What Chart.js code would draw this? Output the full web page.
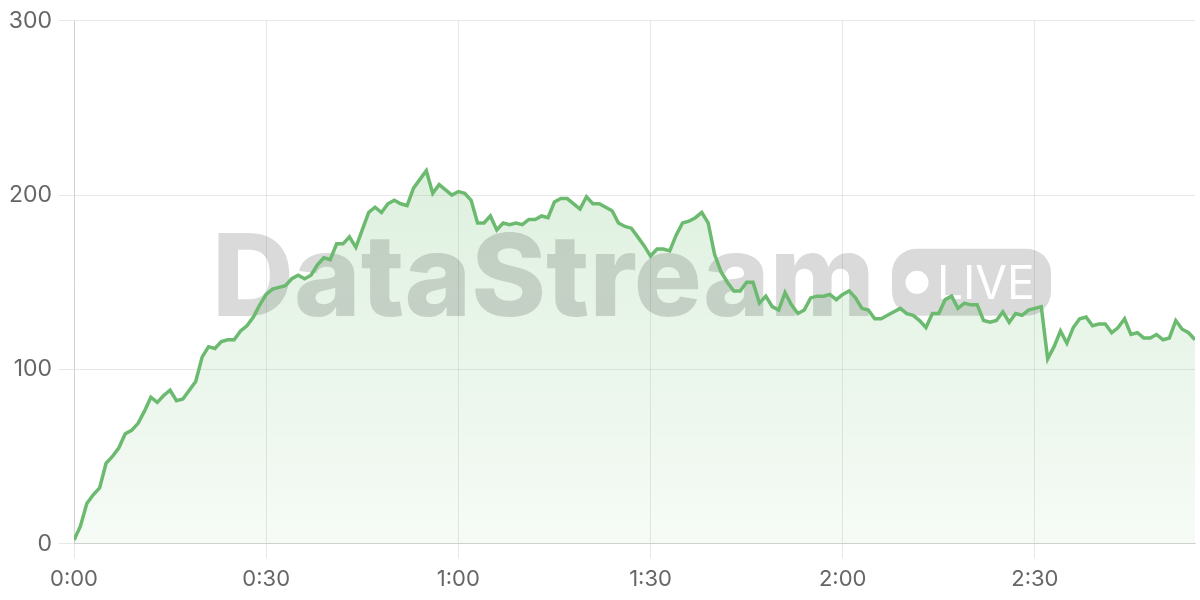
<!DOCTYPE html>
<html>
<head>
<meta charset="utf-8">
<script src="https://cdn.jsdelivr.net/npm/chart.js@4.4.1/dist/chart.umd.min.js"></script>
<style>
  html, body { margin: 0; padding: 0; background: #fff; }
  #wrap { width: 1200px; height: 600px; position: relative; }
</style>
</head>
<body>
<div id="wrap"><canvas id="streamChart"></canvas></div>
<script>
  // viewers per second
  const viewers = [
    2, 10, 23, 28, 32, 46, 50, 55, 63, 65,
    69, 76, 84, 81, 85, 88, 82, 83, 88, 93,
    107, 113, 112, 116, 117, 117, 122, 125, 130, 137,
    143, 146, 147, 148, 152, 154, 152, 154, 160, 164,
    163, 172, 172, 176, 170, 180, 190, 193, 190, 195,
    197, 195, 194, 204, 209, 214, 201, 206, 203, 200,
    202, 201, 197, 184, 184, 188, 180, 184, 183, 184,
    183, 186, 186, 188, 187, 196, 198, 198, 195, 192,
    199, 195, 195, 193, 191, 184, 182, 181, 176, 171,
    165, 169, 169, 168, 177, 184, 185, 187, 190, 184,
    166, 156, 150, 145, 145, 150, 150, 138, 142, 136,
    134, 144, 137, 132, 134, 141, 142, 142, 143, 140,
    143, 145, 141, 135, 134, 129, 129, 131, 133, 135,
    132, 131, 128, 124, 132, 132, 140, 142, 135, 138,
    137, 137, 128, 127, 128, 133, 127, 132, 131, 134,
    135, 136, 106, 113, 122, 115, 124, 129, 130, 125,
    126, 126, 121, 124, 129, 120, 121, 118, 118, 120,
    117, 118, 128, 123, 121, 117
  ];
  const seconds = viewers.map((v, i) => i);
  const xTicks = [0, 30, 60, 90, 120, 150];
  const yTicks = [0, 100, 200, 300];

  const fmtTime = (s) => Math.floor(s / 60) + ':' + String(s % 60).padStart(2, '0');

  // watermark drawn over the fill, under the line
  const watermark = {
    id: 'watermark',
    beforeDatasetDraw(chart) {
      const { ctx, chartArea } = chart;
      const x0 = chartArea.left + 138;
      const base = chartArea.top + 295;
      ctx.save();
      ctx.fillStyle = 'rgba(0,0,0,0.145)';
      ctx.font = '800 100px Inter';
      const w = ctx.measureText('DataStream').width;
      const size = 100 * 663 / w;
      ctx.font = '800 ' + size + 'px Inter';
      ctx.textBaseline = 'alphabetic';
      ctx.textAlign = 'left';
      ctx.fillText('DataStream', x0, base);

      // LIVE badge
      const bx = x0 + 680, by = base - 67, bw = 159, bh = 67;
      ctx.beginPath();
      ctx.roundRect(bx, by, bw, bh, 24);
      ctx.fill();
      ctx.fillStyle = '#ffffff';
      ctx.beginPath();
      ctx.arc(bx + 25, by + 33.5, 11.5, 0, Math.PI * 2);
      ctx.fill();
      ctx.font = '400 46px Inter';
      ctx.fillText('LIVE', bx + 45, by + 50);
      ctx.restore();
    }
  };

  const ctxA = document.getElementById('streamChart');
  new Chart(ctxA, {
    type: 'line',
    data: {
      datasets: [{
        data: viewers.map((v, i) => ({ x: seconds[i], y: v })),
        borderColor: '#6bba6f',
        borderWidth: 3.5,
        tension: 0,
        pointRadius: 0,
        fill: 'origin',
        backgroundColor: (c) => {
          const area = c.chart.chartArea;
          if (!area) return 'rgba(102,187,106,0.15)';
          const g = c.chart.ctx.createLinearGradient(0, area.top, 0, area.bottom);
          g.addColorStop(0, 'rgba(102,187,106,0.28)');
          g.addColorStop(1, 'rgba(102,187,106,0.06)');
          return g;
        }
      }]
    },
    options: {
      responsive: true,
      maintainAspectRatio: false,
      animation: false,
      layout: { padding: { top: 5, right: 5 } },
      plugins: {
        legend: { display: false },
        tooltip: { enabled: false }
      },
      scales: {
        x: {
          type: 'linear',
          min: 0,
          max: seconds[seconds.length - 1],
          afterBuildTicks: (axis) => { axis.ticks = xTicks.map(v => ({ value: v })); },
          grid: { color: 'rgba(0,0,0,0.09)', tickLength: 15 },
          ticks: {
            color: '#666',
            font: { family: 'Inter', size: 22 },
            padding: 7.5,
            maxRotation: 0,
            callback: (v) => fmtTime(v)
          }
        },
        y: {
          min: 0,
          max: 300,
          afterBuildTicks: (axis) => { axis.ticks = yTicks.map(v => ({ value: v })); },
          afterFit: (axis) => { axis.width = 74; },
          grid: { color: 'rgba(0,0,0,0.09)', tickLength: 15 },
          ticks: {
            color: '#666',
            font: { family: 'Inter', size: 23 },
            padding: 7
          }
        }
      }
    },
    plugins: [watermark]
  });
</script>
</body>
</html>
